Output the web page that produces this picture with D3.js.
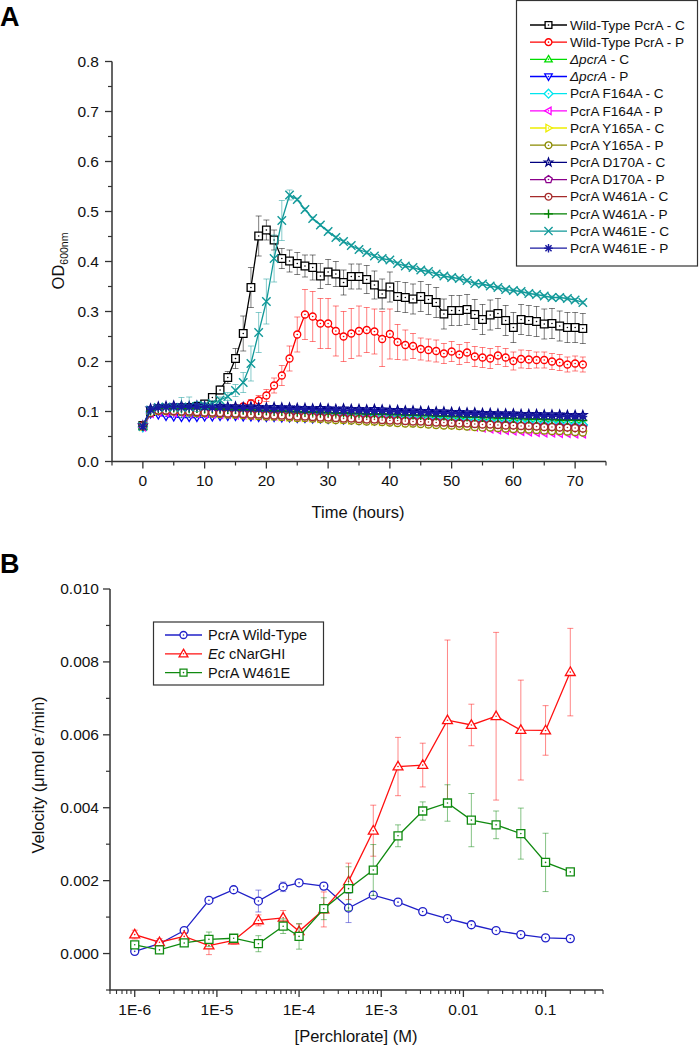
<!DOCTYPE html>
<html><head><meta charset="utf-8">
<script src="https://cdn.jsdelivr.net/npm/d3@7"></script>
<style>body{margin:0;background:#fff;} svg{display:block;font-family:Arial,"Liberation Sans",sans-serif;}</style>
</head><body><svg id="c" width="700" height="1048"></svg>
<script>
// ---------------- Panel A data ----------------
const timeHours = [0,1.25,2.5,3.75,5,6.25,7.5,8.75,10,11.25,12.5,13.75,15,16.25,17.5,18.75,20,21.25,22.5,23.75,25,26.25,27.5,28.75,30,31.25,32.5,33.75,35,36.25,37.5,38.75,40,41.25,42.5,43.75,45,46.25,47.5,48.75,50,51.25,52.5,53.75,55,56.25,57.5,58.75,60,61.25,62.5,63.75,65,66.25,67.5,68.75,70,71.25];
const xTicksA = [0,10,20,30,40,50,60,70];
const yTicksA = [0,0.1,0.2,0.3,0.4,0.5,0.6,0.7,0.8];

const wtC = [.072,.100,.105,.106,.106,.107,.108,.110,.115,.128,.143,.168,.206,.256,.348,.451,.463,.443,.406,.401,.396,.391,.388,.371,.379,.375,.358,.370,.370,.364,.353,.335,.349,.330,.328,.325,.330,.324,.318,.295,.302,.302,.304,.294,.284,.293,.296,.282,.268,.284,.282,.280,.275,.276,.271,.268,.268,.266];
const wtCErr = [.003,.003,.003,.003,.003,.003,.003,.004,.005,.006,.008,.012,.02,.035,.04,.04,.02,.02,.02,.022,.022,.022,.025,.025,.025,.025,.025,.025,.025,.028,.028,.03,.03,.03,.03,.03,.03,.03,.03,.03,.03,.03,.03,.03,.03,.03,.03,.03,.03,.03,.03,.03,.03,.03,.03,.03,.03,.03];
const wtP = [.072,.098,.102,.102,.101,.100,.100,.100,.100,.101,.102,.104,.107,.110,.116,.122,.132,.152,.172,.206,.254,.294,.290,.276,.276,.261,.250,.256,.261,.263,.260,.245,.255,.239,.233,.231,.225,.223,.221,.216,.220,.214,.218,.210,.208,.206,.212,.208,.201,.205,.204,.203,.203,.200,.198,.194,.196,.194];
const wtPErr = [.003,.003,.003,.003,.003,.003,.003,.003,.003,.003,.003,.003,.003,.005,.008,.01,.012,.015,.02,.025,.035,.05,.05,.05,.05,.05,.05,.05,.05,.045,.045,.055,.05,.035,.03,.025,.022,.022,.022,.02,.02,.02,.02,.02,.02,.02,.018,.018,.018,.018,.018,.016,.016,.016,.016,.015,.015,.015];
const w461eC = [.070,.103,.108,.109,.108,.108,.109,.110,.112,.116,.123,.130,.142,.158,.196,.258,.320,.406,.482,.533,.524,.504,.486,.473,.460,.448,.440,.432,.424,.418,.411,.406,.403,.396,.391,.388,.383,.380,.375,.371,.368,.366,.362,.356,.355,.351,.348,.344,.342,.340,.336,.334,.331,.328,.328,.326,.323,.318];
const w461eCErr = [.003,.003,.003,.003,.003,.02,.02,.01,.005,.005,.006,.008,.012,.02,.035,.04,.045,.047,.04,.01,.003,.003,.003,.003,.003,.003,.003,.003,.003,.003,.003,.003,.003,.003,.003,.003,.003,.003,.003,.003,.003,.003,.003,.003,.003,.003,.003,.003,.003,.003,.003,.003,.003,.003,.003,.003,.003,.003];
const dpcrAC = [.070,.100,.105,.105,.104,.104,.103,.103,.102,.102,.101,.101,.100,.100,.099,.099,.098,.098,.097,.097,.096,.096,.095,.095,.094,.094,.093,.093,.092,.092,.091,.091,.090,.090,.089,.089,.088,.088,.087,.087,.086,.086,.085,.084,.084,.083,.083,.082,.082,.081,.081,.080,.080,.079,.079,.078,.078,.078];
const dpcrAP = [.068,.095,.093,.090,.089,.088,.088,.088,.089,.089,.090,.090,.090,.089,.089,.088,.088,.088,.087,.087,.086,.086,.085,.085,.084,.084,.083,.083,.082,.082,.081,.081,.080,.080,.079,.078,.078,.077,.076,.075,.074,.073,.072,.072,.071,.071,.071,.070,.070,.070,.070,.070,.069,.069,.069,.069,.068,.068];
const f164aC = [.069,.099,.104,.104,.103,.103,.102,.101,.101,.100,.100,.099,.098,.098,.097,.097,.096,.095,.095,.094,.094,.093,.092,.092,.091,.091,.090,.089,.089,.088,.088,.087,.087,.086,.085,.085,.084,.084,.083,.082,.082,.081,.081,.080,.079,.079,.078,.078,.077,.077,.076,.076,.075,.075,.074,.074,.073,.073];
const f164aP = [.069,.096,.099,.098,.097,.097,.096,.096,.095,.095,.094,.094,.093,.093,.092,.092,.091,.091,.090,.090,.089,.089,.088,.088,.087,.087,.086,.086,.085,.085,.084,.084,.083,.082,.081,.080,.079,.078,.077,.076,.075,.073,.071,.069,.067,.065,.063,.062,.061,.060,.059,.058,.057,.057,.056,.056,.055,.055];
const y165aC = [.070,.098,.102,.102,.101,.100,.099,.098,.098,.097,.096,.095,.095,.094,.093,.092,.092,.091,.090,.089,.089,.088,.087,.086,.086,.085,.084,.083,.083,.082,.081,.080,.080,.079,.078,.077,.077,.076,.075,.074,.074,.073,.072,.071,.071,.070,.069,.068,.068,.067,.066,.065,.065,.064,.063,.062,.062,.061];
const y165aP = [.070,.097,.101,.101,.100,.099,.098,.097,.097,.096,.095,.094,.094,.093,.092,.091,.090,.090,.089,.088,.087,.087,.086,.085,.084,.083,.083,.082,.081,.080,.080,.079,.078,.077,.076,.076,.075,.074,.073,.072,.072,.071,.070,.069,.068,.068,.067,.066,.065,.064,.064,.063,.062,.061,.061,.060,.059,.058];
const d170aC = [.072,.106,.110,.111,.112,.112,.111,.112,.111,.110,.111,.110,.110,.109,.110,.109,.108,.109,.108,.108,.107,.107,.106,.107,.106,.105,.106,.105,.105,.104,.105,.104,.103,.103,.102,.102,.101,.101,.100,.100,.099,.099,.098,.098,.097,.097,.096,.096,.096,.095,.095,.095,.094,.094,.094,.093,.093,.093];
const d170aP = [.072,.098,.103,.103,.102,.102,.101,.100,.100,.099,.098,.098,.097,.096,.096,.095,.094,.094,.093,.092,.092,.091,.090,.090,.089,.088,.088,.087,.086,.086,.085,.084,.084,.083,.082,.082,.081,.080,.080,.079,.078,.078,.077,.076,.076,.075,.074,.074,.073,.072,.072,.071,.071,.070,.070,.069,.069,.068];
const w461aC = [.071,.097,.102,.102,.101,.100,.100,.099,.098,.098,.097,.096,.096,.095,.094,.094,.093,.092,.092,.091,.090,.090,.089,.088,.088,.087,.086,.086,.085,.084,.084,.083,.082,.082,.081,.080,.080,.079,.078,.078,.077,.076,.076,.075,.074,.074,.073,.072,.072,.071,.071,.070,.069,.069,.068,.068,.067,.066];
const w461aP = [.071,.101,.106,.107,.107,.106,.106,.106,.105,.105,.105,.104,.104,.103,.103,.102,.102,.101,.101,.100,.100,.099,.099,.098,.098,.097,.097,.096,.096,.095,.095,.095,.094,.094,.093,.093,.092,.092,.091,.091,.090,.090,.089,.089,.088,.088,.087,.087,.086,.086,.085,.085,.084,.084,.083,.083,.083,.082];
const w461eP = [.070,.104,.108,.109,.110,.109,.109,.110,.109,.108,.108,.108,.107,.107,.107,.106,.106,.105,.106,.105,.105,.104,.104,.103,.104,.103,.102,.102,.102,.101,.101,.101,.100,.100,.099,.099,.098,.098,.097,.097,.096,.096,.095,.095,.094,.094,.094,.093,.093,.092,.092,.092,.091,.091,.091,.090,.090,.090];

const seriesNamesA = ["Wild-Type PcrA - C","Wild-Type PcrA - P","\u0394pcrA - C","\u0394pcrA - P","PcrA F164A - C","PcrA F164A - P","PcrA Y165A - C","PcrA Y165A - P","PcrA D170A - C","PcrA D170A - P","PcrA W461A - C","PcrA W461A - P","PcrA W461E - C","PcrA W461E - P"];

// ---------------- Panel B data ----------------
const perchlorate = [1e-6,2e-6,4e-6,8e-6,1.6e-5,3.2e-5,6.4e-5,1e-4,2e-4,4e-4,8e-4,1.6e-3,3.2e-3,6.4e-3,0.0125,0.025,0.05,0.1,0.2];
const velWT = [0.00006,0.00027,0.00063,0.00146,0.00175,0.00144,0.00183,0.00194,0.00185,0.00125,0.00160,0.00141,0.00115,0.00096,0.00079,0.00063,0.00052,0.00043,0.00041];
const velWTErr = [0.00005,0.00005,0.00005,0.00005,0.00005,0.0003,0.00013,0.00005,0.0001,0.0004,0.00005,0.00005,0.00003,0.00003,0.00003,0.00003,0.00003,0.00003,0.00003];
const velNar = [0.00052,0.00031,0.00047,0.00022,0.00036,0.00091,0.00098,0.00061,0.00121,0.00198,0.00337,0.00513,0.00517,0.0064,0.00627,0.00651,0.00613,0.00612,0.00772];
const velNarErr = [0.00012,0.0001,0.0001,0.00025,0.0001,0.00015,0.0002,0.0002,0.00048,0.0005,0.0007,0.0008,0.0006,0.0022,0.00057,0.0023,0.00137,0.00068,0.0012];
const velW461E = [0.00024,0.0001,0.00029,0.00039,0.00042,0.00027,0.00075,0.00047,0.00123,0.00178,0.00229,0.00323,0.00391,0.00413,0.00366,0.00353,0.00329,0.0025,0.00224];
const velW461EErr = [0.00005,0.00005,0.00005,0.0002,0.00005,0.00022,0.0002,0.00035,0.0003,0.0006,0.0007,0.0003,0.00025,0.0005,0.00073,0.00038,0.0007,0.0008,0.00005];
const xTickLabelsB = ["1E-6","1E-5","1E-4","1E-3","0.01","0.1"];
const yTicksB = [0,0.002,0.004,0.006,0.008,0.010];
const seriesNamesB = ["PcrA Wild-Type","Ec cNarGHI","PcrA W461E"];

// ---------------- helpers ----------------
const svg = d3.select("#c");
const AX = "#333";

function symPath(type, s){
  const r = s;
  switch(type){
    case "square": return `M${-r},${-r}H${r}V${r}H${-r}Z`;
    case "circle": return `M${r},0A${r},${r} 0 1,1 ${-r},0A${r},${r} 0 1,1 ${r},0Z`;
    case "triUp": return `M0,${-r*1.15}L${r*1.1},${r*0.75}L${-r*1.1},${r*0.75}Z`;
    case "triDown": return `M0,${r*1.15}L${r*1.1},${-r*0.75}L${-r*1.1},${-r*0.75}Z`;
    case "triLeft": return `M${-r*1.15},0L${r*0.75},${-r*1.1}L${r*0.75},${r*1.1}Z`;
    case "triRight": return `M${r*1.15},0L${-r*0.75},${-r*1.1}L${-r*0.75},${r*1.1}Z`;
    case "diamond": { const h=r*1.3; return `M0,${-h}L${h},0L0,${h}L${-h},0Z`; }
    case "star": {
      let p=""; for(let i=0;i<10;i++){const a=-Math.PI/2+i*Math.PI/5; const rr=i%2?r*0.5:r*1.25; p+=(i?"L":"M")+(rr*Math.cos(a)).toFixed(2)+","+(rr*Math.sin(a)).toFixed(2);} return p+"Z"; }
    case "pentagon": {
      let p=""; for(let i=0;i<5;i++){const a=-Math.PI/2+i*2*Math.PI/5; const rr=r*1.15; p+=(i?"L":"M")+(rr*Math.cos(a)).toFixed(2)+","+(rr*Math.sin(a)).toFixed(2);} return p+"Z"; }
    case "plus": { const h=r*1.3; return `M${-h},0H${h}M0,${-h}V${h}`; }
    case "cross": { const h=r*1.2; return `M${-h},${-h}L${h},${h}M${-h},${h}L${h},${-h}`; }
    case "asterisk": { const h=r*1.25, d=h*0.72; return `M${-h},0H${h}M0,${-h}V${h}M${-d},${-d}L${d},${d}M${-d},${d}L${d},${-d}`; }
  }
}
const openLine = t => (t==="plus"||t==="cross"||t==="asterisk");

function drawMarker(g, type, color, s, x, y, dot){
  const open = openLine(type);
  g.append("path").attr("d", symPath(type, s)).attr("transform", `translate(${x},${y})`)
    .attr("fill", open ? "none" : "#fff").attr("stroke", color).attr("stroke-width", open?1.4:1.3);
  if(dot && !open) g.append("circle").attr("cx", x).attr("cy", y).attr("r", 0.8).attr("fill", color);
}

function drawSeries(g, xs, ys, errs, x, y, color, type, s, errOpacity){
  if(errs){
    const eg = g.append("g").attr("stroke", color).attr("stroke-opacity", errOpacity).attr("stroke-width", 1).attr("fill","none");
    xs.forEach((xv,i)=>{
      const e = errs[i]; if(e==null) return;
      const px = x(xv), y1 = y(ys[i]-e), y2 = y(ys[i]+e);
      eg.append("path").attr("d", `M${px},${y1}V${y2}M${px-3},${y1}H${px+3}M${px-3},${y2}H${px+3}`);
    });
  }
  const line = d3.line().x((d,i)=>x(xs[i])).y(d=>y(d));
  g.append("path").datum(ys).attr("d", line).attr("fill","none").attr("stroke", color).attr("stroke-width", 1.3);
  const mg = g.append("g");
  ys.forEach((v,i)=> drawMarker(mg, type, color, s, x(xs[i]), y(v), true));
}

// ---------------- Panel A ----------------
const xA = d3.scaleLinear().domain([-5,75]).range([112,606]);
const yA = d3.scaleLinear().domain([0,0.8]).range([461.5,61.5]);

svg.append("text").attr("x",0).attr("y",26).attr("font-size",27).attr("font-weight","bold").text("A");

const seriesA = [
  {v:wtC, e:wtCErr, c:"#000000", t:"square"},
  {v:wtP, e:wtPErr, c:"#ff0000", t:"circle"},
  {v:dpcrAC, e:null, c:"#00dd00", t:"triUp"},
  {v:dpcrAP, e:null, c:"#0000ff", t:"triDown"},
  {v:f164aC, e:null, c:"#00e5ee", t:"diamond"},
  {v:f164aP, e:null, c:"#ff00ff", t:"triLeft"},
  {v:y165aC, e:null, c:"#eeee00", t:"triRight"},
  {v:y165aP, e:null, c:"#8a8a00", t:"circle"},
  {v:d170aC, e:null, c:"#000080", t:"star"},
  {v:d170aP, e:null, c:"#8b008b", t:"pentagon"},
  {v:w461aC, e:null, c:"#a52a2a", t:"circle"},
  {v:w461aP, e:null, c:"#008000", t:"plus"},
  {v:w461eC, e:w461eCErr, c:"#119999", t:"cross"},
  {v:w461eP, e:null, c:"#1a1aa0", t:"asterisk"}
];
const gA = svg.append("g");
seriesA.forEach(s => drawSeries(gA, timeHours, s.v, s.e, xA, yA, s.c, s.t, (s.t==="square"?3.8:3.5), 0.5));

// axes A
const axA = svg.append("g").attr("stroke", AX).attr("fill","none");
axA.append("path").attr("d", `M112,61.5V461.5H606`).attr("stroke-width",1.5);
yTicksA.forEach(v => axA.append("path").attr("d", `M112,${yA(v)}H105`).attr("stroke-width",1.3));
[0.05,0.15,0.25,0.35,0.45,0.55,0.65,0.75].forEach(v => axA.append("path").attr("d", `M112,${yA(v)}H108`).attr("stroke-width",1.2));
xTicksA.forEach(v => axA.append("path").attr("d", `M${xA(v)},461.5V468.5`).attr("stroke-width",1.3));
[-5,5,15,25,35,45,55,65,75].forEach(v => axA.append("path").attr("d", `M${xA(v)},461.5V465.5`).attr("stroke-width",1.2));
const tA = svg.append("g").attr("font-size",15.5).attr("fill","#111");
yTicksA.forEach(v => tA.append("text").attr("x",99).attr("y",yA(v)).attr("dy","0.35em").attr("text-anchor","end").text(v.toFixed(1)));
xTicksA.forEach(v => tA.append("text").attr("x",xA(v)).attr("y",481).attr("dy","0.35em").attr("text-anchor","middle").text(v));
svg.append("text").attr("x",358).attr("y",518).attr("text-anchor","middle").attr("font-size",16.5).attr("fill","#111").text("Time (hours)");
const odl = svg.append("text").attr("transform","translate(64,261) rotate(-90)").attr("text-anchor","middle").attr("font-size",16.5).attr("fill","#111");
odl.append("tspan").text("OD");
odl.append("tspan").attr("font-size",10.5).attr("dy",4).text("600nm");

// legend A
const lgA = svg.append("g");
lgA.append("rect").attr("x",516.5).attr("y",0.5).attr("width",181).attr("height",265.5).attr("fill","#fff").attr("stroke",AX).attr("stroke-width",1.2);
seriesA.forEach((s,i) => {
  const yy = 25 + i*17.17;
  lgA.append("path").attr("d",`M530,${yy}H567`).attr("stroke",s.c).attr("stroke-width",1.3);
  drawMarker(lgA, s.t, s.c, 3.4, 548.5, yy, true);
  const name = seriesNamesA[i];
  const tx = lgA.append("text").attr("x",570).attr("y",yy).attr("dy","0.35em").attr("font-size",13.6).attr("fill","#111");
  if(name.startsWith("\u0394")){
    tx.append("tspan").attr("font-style","italic").text(name.slice(0,5));
    tx.append("tspan").text(name.slice(5));
  } else tx.text(name);
});

// ---------------- Panel B ----------------
const xB = d3.scaleLog().domain([5e-7,0.5]).range([110,603]);
const yB = d3.scaleLinear().domain([-0.001,0.010]).range([990,589]);

svg.append("text").attr("x",0).attr("y",573).attr("font-size",27).attr("font-weight","bold").text("B");

const seriesB = [
  {v:velWT, e:velWTErr, c:"#2020c8", t:"circle"},
  {v:velNar, e:velNarErr, c:"#ff1010", t:"triUp"},
  {v:velW461E, e:velW461EErr, c:"#108a10", t:"square"}
];
const gB = svg.append("g");
seriesB.forEach(s => drawSeries(gB, perchlorate, s.v, s.e, xB, yB, s.c, s.t, s.t==="triUp"?4.5:4.0, 0.5));

const axB = svg.append("g").attr("stroke", AX).attr("fill","none");
axB.append("path").attr("d", `M110,589V990H603`).attr("stroke-width",1.5);
yTicksB.forEach(v => axB.append("path").attr("d", `M110,${yB(v)}H103`).attr("stroke-width",1.3));
[-0.001,0.001,0.003,0.005,0.007,0.009].forEach(v => axB.append("path").attr("d", `M110,${yB(v)}H106`).attr("stroke-width",1.2));
const majorsB = [1e-6,1e-5,1e-4,1e-3,1e-2,1e-1];
majorsB.forEach(v => axB.append("path").attr("d", `M${xB(v)},990V997`).attr("stroke-width",1.3));
xB.ticks().filter(v => !majorsB.some(m => Math.abs(m-v)/m < 1e-6)).forEach(v => axB.append("path").attr("d", `M${xB(v)},990V994`).attr("stroke-width",1.1));
const tB = svg.append("g").attr("font-size",15.5).attr("fill","#111");
yTicksB.forEach(v => tB.append("text").attr("x",99).attr("y",yB(v)).attr("dy","0.35em").attr("text-anchor","end").text(v.toFixed(3)));
majorsB.forEach((v,i) => tB.append("text").attr("x",xB(v)).attr("y",1010).attr("dy","0.35em").attr("text-anchor","middle").text(xTickLabelsB[i]));
svg.append("text").attr("x",356).attr("y",1042).attr("text-anchor","middle").attr("font-size",16.5).attr("fill","#111").text("[Perchlorate] (M)");
const vl = svg.append("text").attr("transform","translate(44,775) rotate(-90)").attr("text-anchor","middle").attr("font-size",16.5).attr("fill","#111");
vl.append("tspan").text("Velocity (\u03bcmol e");
vl.append("tspan").attr("font-size",11).attr("dy",-6).text("-");
vl.append("tspan").attr("dy",6).text("/min)");

// legend B
const lgB = svg.append("g");
lgB.append("rect").attr("x",153.5).attr("y",622).attr("width",170).attr("height",63).attr("fill","#fff").attr("stroke",AX).attr("stroke-width",1.2);
seriesB.forEach((s,i) => {
  const yy = 635 + i*18.8;
  lgB.append("path").attr("d",`M165,${yy}H202`).attr("stroke",s.c).attr("stroke-width",1.3);
  drawMarker(lgB, s.t, s.c, s.t==="triUp"?4.0:3.5, 183.5, yy, true);
  const tx = lgB.append("text").attr("x",208).attr("y",yy).attr("dy","0.35em").attr("font-size",14.5).attr("fill","#111");
  const name = seriesNamesB[i];
  if(name.startsWith("Ec ")){
    tx.append("tspan").attr("font-style","italic").text("Ec");
    tx.append("tspan").text(name.slice(2));
  } else tx.text(name);
});
</script></body></html>
